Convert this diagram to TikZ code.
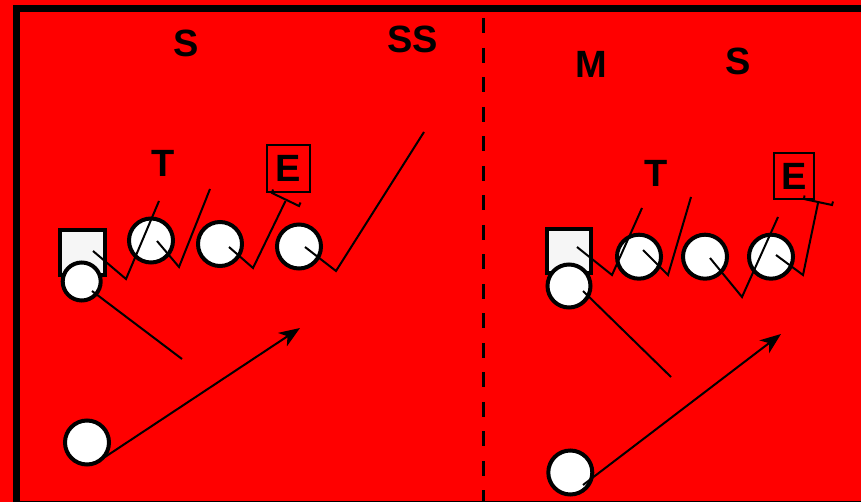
\documentclass[tikz,border=0pt]{standalone}
\usepackage{fontspec}
\setmainfont{Liberation Sans}
\usetikzlibrary{arrows.meta}
\definecolor{field}{RGB}{255,0,0}
\definecolor{sqfill}{RGB}{246,246,246}
\begin{document}
\begin{tikzpicture}[x=1pt,y=-1pt,
  lbl/.style={font=\fontsize{38}{40}\selectfont\bfseries, inner sep=0pt, anchor=base},
  player/.style={circle, draw=black, line width=4pt, fill=white, inner sep=0pt, minimum size=44pt},
  center/.style={rectangle, draw=black, line width=4pt, fill=sqfill, inner sep=0pt},
  ebox/.style={rectangle, draw=black, line width=2pt, inner sep=0pt, font=\fontsize{38}{40}\selectfont\bfseries},
  route/.style={draw=black, line width=2pt, line join=miter},
  pass/.style={draw=black, line width=2pt, -{Stealth[length=21pt,width=16pt,inset=6pt]}}
]
\useasboundingbox (0,0) rectangle (861,502);
\clip (0,0) rectangle (861,502);
\fill[field] (0,0) rectangle (861,502);
% border
\draw[line width=6.6pt, line join=miter] (16.7,530) -- (16.7,8.3) -- (900,8.3);
\draw[line width=1.5pt] (16.7,501.5) -- (861,501.5);
% dashed midline
\coordinate (mtop) at (483.7,18.3);
\coordinate (mbot) at (483.7,502);
\draw[line width=2.5pt, dash pattern=on 15pt off 14.5pt] (mtop) -- (mbot);

% ---------- left formation ----------
\node[center, minimum size=45pt] (Q1) at (82.5,252.5) {};
\node[player, minimum size=38pt] (C1a) at (81.7,281.5) {};
\node[player] (C1b) at (151,240.5) {};
\node[player] (C1c) at (220,244) {};
\node[player] (C1d) at (299,246.5) {};
\node[player] (B1) at (87,442.5) {};

\coordinate (l1a) at (93,251);  \coordinate (l1b) at (126,279);  \coordinate (l1c) at (159,201);
\coordinate (l2a) at (157,241); \coordinate (l2b) at (179,267);  \coordinate (l2c) at (210,189);
\coordinate (l3a) at (229,247); \coordinate (l3b) at (253,268);  \coordinate (l3c) at (285.5,201);
\coordinate (l3d) at (273,189.5); \coordinate (l3e) at (272,193); \coordinate (l3f) at (299,206); \coordinate (l3g) at (300.5,202.5);
\coordinate (l4a) at (305,247); \coordinate (l4b) at (336,271);  \coordinate (l4c) at (424,132);
\coordinate (l5a) at (92,291);  \coordinate (l5b) at (182,359);
\coordinate (l6a) at (105,457); \coordinate (l6b) at (300,328);

\draw[route] (l1a) -- (l1b) -- (l1c);
\draw[route] (l2a) -- (l2b) -- (l2c);
\draw[route] (l3a) -- (l3b) -- (l3c);
\draw[route] (l3d) -- (l3e) -- (l3f) -- (l3g);
\draw[route] (l4a) -- (l4b) -- (l4c);
\draw[route] (l5a) -- (l5b);
\draw[pass] (l6a) -- (l6b);

\node[lbl] (S1) at (186.5,57) {S};
\node[lbl] (SS) at (412.5,53) {SS};
\node[lbl] (T1) at (163,177) {T};
\node[ebox, minimum width=43pt, minimum height=47pt] (E1) at (288.5,168.5) {E};

% ---------- right formation ----------
\node[center, minimum size=44pt] (Q2) at (569,251) {};
\node[player, minimum size=43pt] (C2a) at (569,286) {};
\node[player] (C2b) at (639,256.7) {};
\node[player] (C2c) at (705,256.7) {};
\node[player] (C2d) at (771,256.7) {};
\node[player] (B2) at (570.3,472.5) {};

\coordinate (r1a) at (577,247); \coordinate (r1b) at (612,275);  \coordinate (r1c) at (642,208);
\coordinate (r2a) at (643,250); \coordinate (r2b) at (668,275);  \coordinate (r2c) at (691,197);
\coordinate (r3a) at (710,258); \coordinate (r3b) at (742,297);  \coordinate (r3c) at (778,217);
\coordinate (r4a) at (776,255); \coordinate (r4b) at (803,275);  \coordinate (r4c) at (818,203);
\coordinate (r4d) at (804.5,195.5); \coordinate (r4e) at (804,199); \coordinate (r4f) at (832,205); \coordinate (r4g) at (833,201.5);
\coordinate (r5a) at (583,291); \coordinate (r5b) at (671,377);
\coordinate (r6a) at (583,485); \coordinate (r6b) at (781,334);

\draw[route] (r1a) -- (r1b) -- (r1c);
\draw[route] (r2a) -- (r2b) -- (r2c);
\draw[route] (r3a) -- (r3b) -- (r3c);
\draw[route] (r4a) -- (r4b) -- (r4c);
\draw[route] (r4d) -- (r4e) -- (r4f) -- (r4g);
\draw[route] (r5a) -- (r5b);
\draw[pass] (r6a) -- (r6b);

\node[lbl] (M2) at (591,78) {M};
\node[lbl] (S2) at (738,75) {S};
\node[lbl] (T2) at (656.5,186.7) {T};
\node[ebox, minimum width=40pt, minimum height=46pt] (E2) at (794,176) {E};
\end{tikzpicture}
\end{document}
